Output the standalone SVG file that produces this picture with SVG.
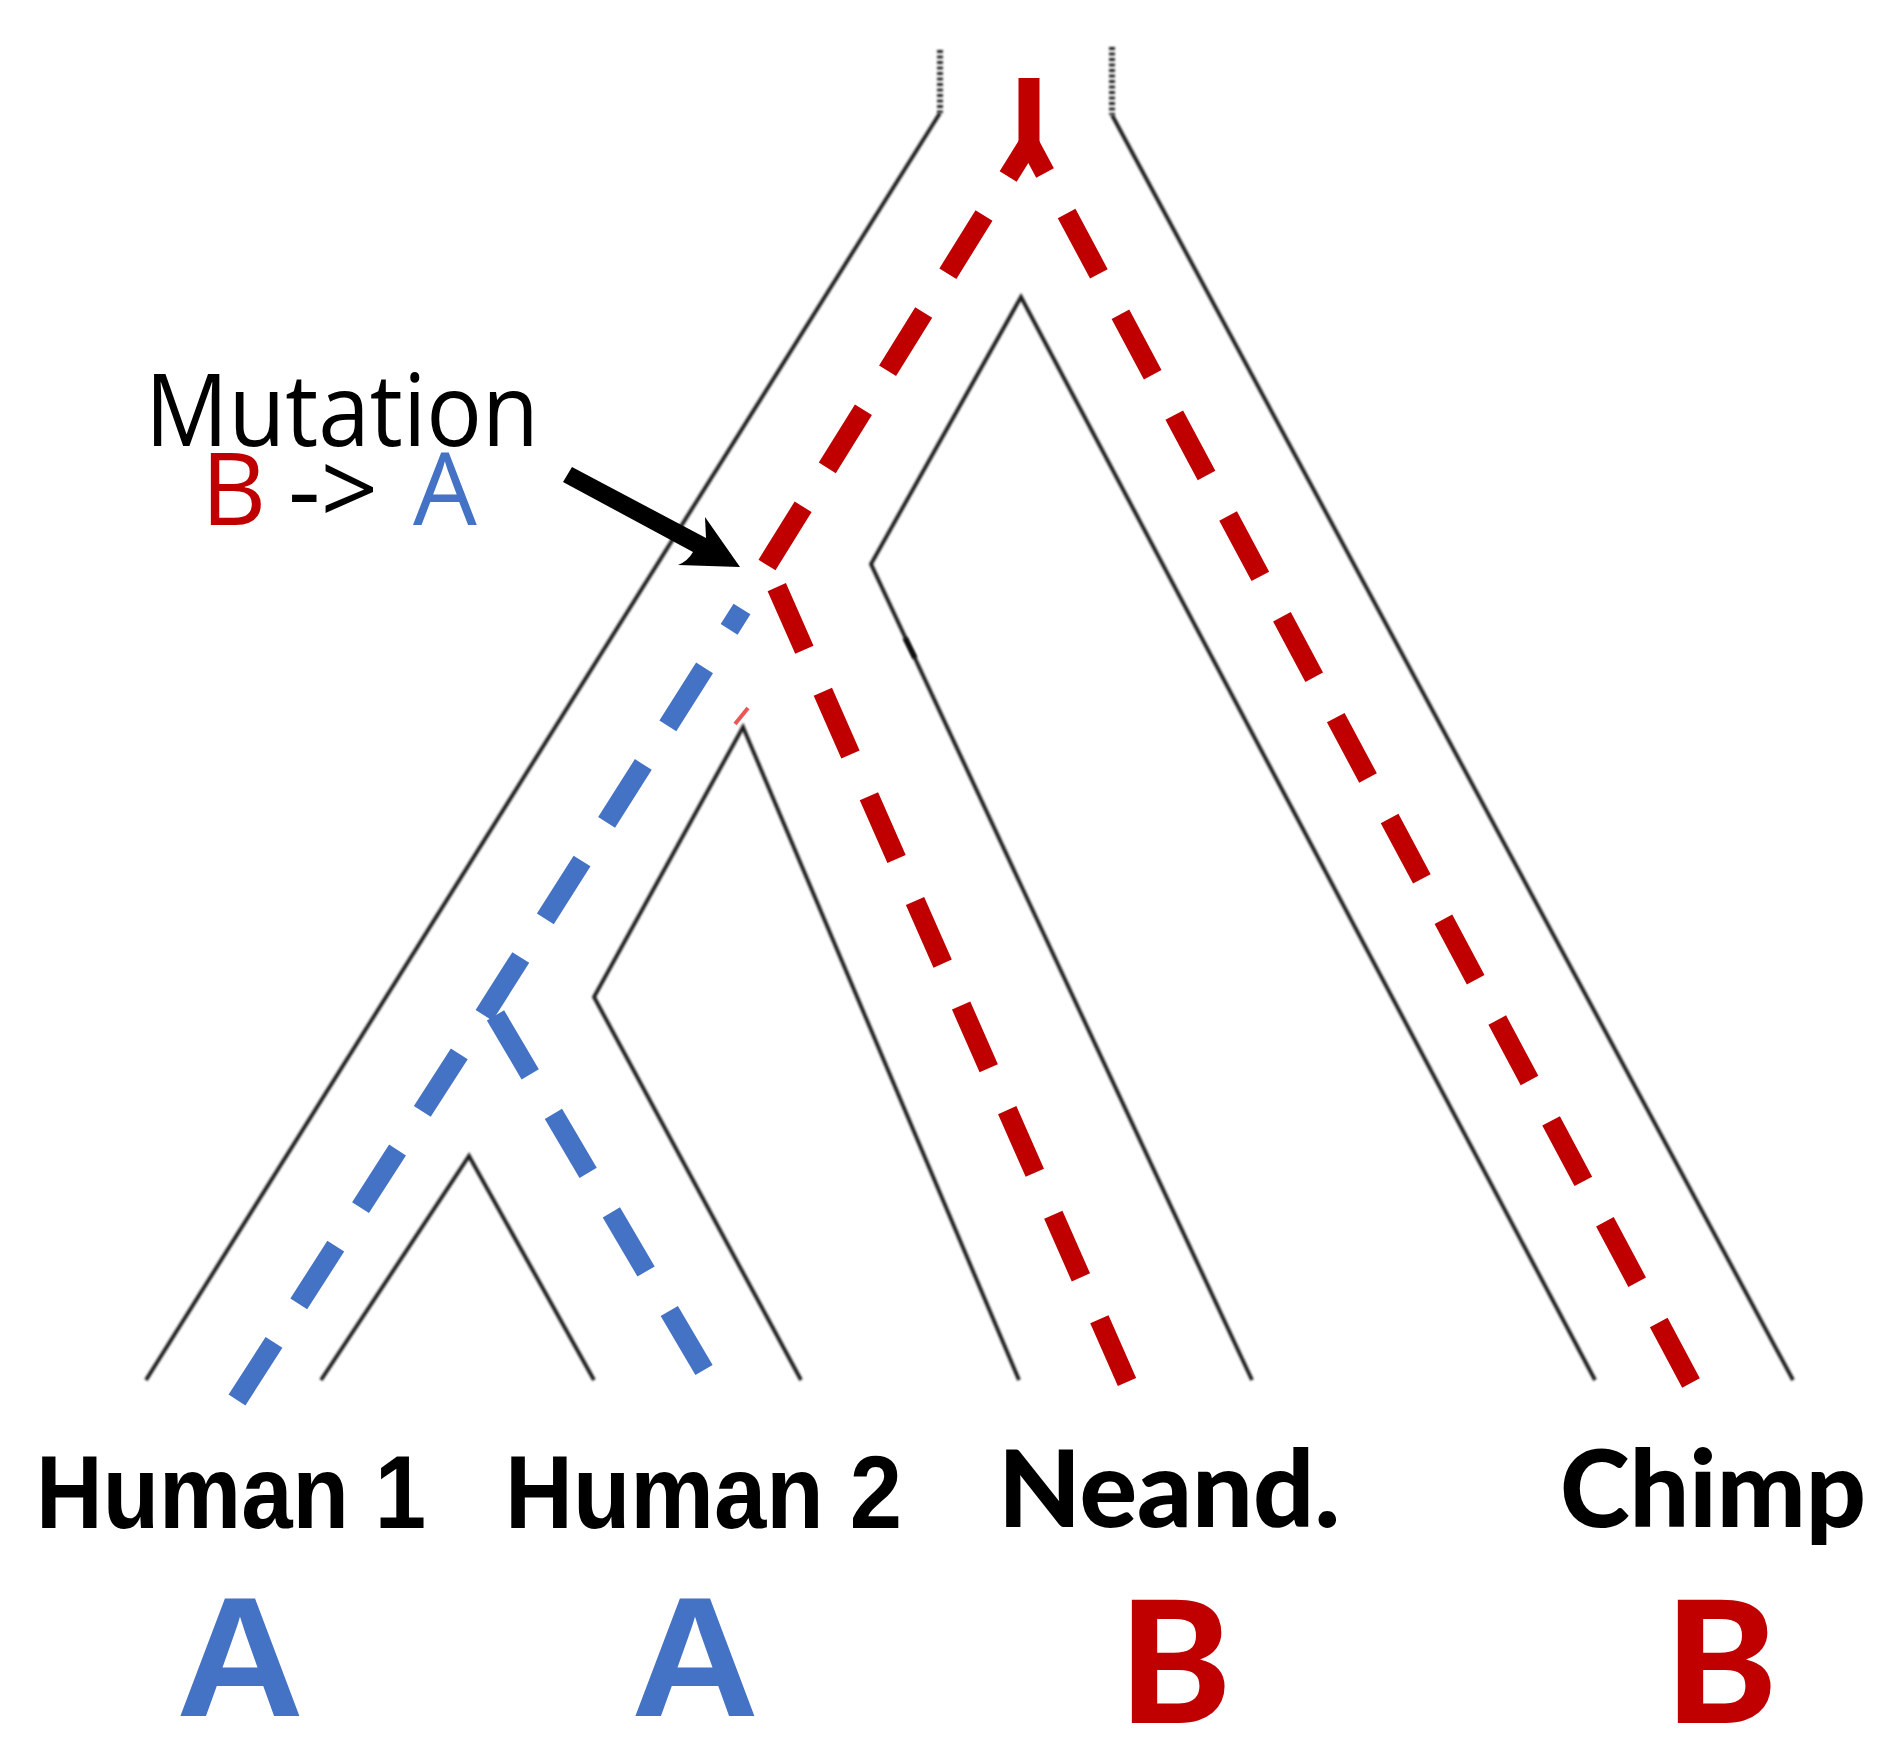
<svg xmlns="http://www.w3.org/2000/svg" width="1902" height="1760" viewBox="0 0 1902 1760">
<defs>
<filter id="soft" filterUnits="userSpaceOnUse" x="0" y="0" width="1902" height="1760"><feGaussianBlur stdDeviation="1"/></filter>
<style>
.tree{fill:none;stroke:#1c1c1c;stroke-width:3.8;stroke-linejoin:miter;filter:url(#soft)}
.dot{fill:none;stroke:#222;stroke-width:6;stroke-dasharray:3 2.5;filter:url(#soft)}
.red{fill:none;stroke:#C00000;stroke-width:20;stroke-dasharray:68.5 45.8;stroke-linecap:butt;stroke-linejoin:miter}
.blue{fill:none;stroke:#4472C4;stroke-width:20;stroke-dasharray:68.5 45.8;stroke-linecap:butt;stroke-linejoin:miter}
.taxon{font-family:"Liberation Sans",Arial,sans-serif;font-weight:bold;font-size:104px;fill:#000}
.taxon2{font-family:Lato,"Liberation Sans",sans-serif;font-weight:900;font-size:107px;fill:#000}
.stateA{font-family:"Liberation Sans",Arial,sans-serif;font-weight:bold;font-size:170px;fill:#4472C4}
.stateB{font-family:Lato,"Liberation Sans",sans-serif;font-weight:900;font-size:169px;fill:#C00000;text-anchor:middle}
.note{font-family:"Open Sans","Noto Sans",sans-serif;font-size:101px}
</style>
</defs>
<rect width="1902" height="1760" fill="#fff"/>

<g id="connectors">
  <g id="tree">
    <path class="dot" d="M940,50 V113"/>
    <path class="dot" d="M1112,47 V115"/>
    <path class="tree" d="M940,113 L146,1380"/>
    <path class="tree" d="M1112,115 L1793,1380"/>
    <path class="tree" d="M1252,1380 L871,564 L1021,297 L1595,1380"/>
    <path class="tree" d="M801,1380 L594,997 L743,727 L1019,1380"/>
    <path class="tree" d="M321,1380 L469,1156 L594,1380"/>
    <path d="M905,638 L915,658" stroke="#111" stroke-width="5" fill="none" filter="url(#soft)"/>
    <path d="M735,724 L748,708" stroke="#e53a3a" stroke-width="4" fill="none" opacity="0.85"/>
  </g>
  <g id="lineages">
    <path d="M1029,78 V143" fill="none" stroke="#C00000" stroke-width="21"/>
    <path class="red" d="M767,565 L1029,143"/>
    <path class="red" d="M1127,1382 L767,565"/>
    <path class="red" d="M1691,1383 L1029,143"/>
    <path class="blue" d="M237,1400 L490,1006 L742,609"/>
    <path class="blue" d="M704,1370 L490,1006"/>
  </g>
  <g id="mutation-arrow">
    <path d="M563,482 L572,467 L706,538 L705,517 L740,567 L678,565 Q688,561 693,552 Z" fill="#000"/>
  </g>
</g>

<g id="mutation-label">
  <text class="note" x="145" y="446" textLength="394" lengthAdjust="spacingAndGlyphs" fill="#000">Mutation</text>
  <text class="note" y="525"><tspan x="201" fill="#C00000">B</tspan><tspan x="288" fill="#000">-&gt;</tspan><tspan x="413" fill="#4472C4">A</tspan></text>
</g>

<g id="node-human1">
  <text class="taxon" x="36" y="1528" textLength="390" lengthAdjust="spacingAndGlyphs">Human 1</text>
  <text class="stateA" x="176" y="1716" textLength="128" lengthAdjust="spacingAndGlyphs">A</text>
</g>
<g id="node-human2">
  <text class="taxon" x="505" y="1528" textLength="397" lengthAdjust="spacingAndGlyphs">Human 2</text>
  <text class="stateA" x="631" y="1716" textLength="128" lengthAdjust="spacingAndGlyphs">A</text>
</g>
<g id="node-neand">
  <text class="taxon2" x="998" y="1527" textLength="342" lengthAdjust="spacingAndGlyphs">Neand.</text>
  <text class="stateB" x="1175" y="1723">B</text>
</g>
<g id="node-chimp">
  <text class="taxon2" x="1560" y="1527" textLength="306" lengthAdjust="spacingAndGlyphs">Chimp</text>
  <text class="stateB" x="1721" y="1723">B</text>
</g>
</svg>
